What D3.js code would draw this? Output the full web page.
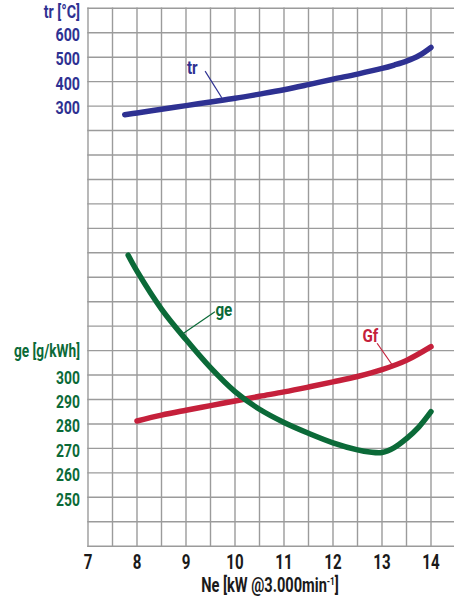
<!DOCTYPE html>
<html>
<head>
<meta charset="utf-8">
<script src="https://cdn.jsdelivr.net/npm/d3@7/dist/d3.min.js"></script>
<style>
  body { margin: 0; background: #fff; }
  svg text { font-family: Roboto, 'DejaVu Sans Condensed', sans-serif; font-weight: bold; }
</style>
</head>
<body>
<div id="chart"></div>
<script>
// ===== data =====
// exhaust temperature tr [°C] vs. Ne [kW]
var trNe   = [7.75, 8, 8.5, 9, 9.5, 10, 10.5, 11, 11.5, 12, 12.5, 13, 13.25, 13.5, 13.75, 14];
var trVals = [265, 272, 287, 302, 317, 332, 349, 367, 388, 410, 431, 454, 468, 484, 506, 540];

// specific consumption ge [g/kWh]
var geNe   = [7.82, 8, 8.5, 9, 9.5, 10, 10.5, 11, 11.5, 12, 12.5, 12.75, 13, 13.25, 13.5, 13.75, 14];
var geVals = [349, 342.5, 327, 314.5, 303, 293.2, 286, 280.6, 276.2, 272.3, 269.4, 268.5, 268.3, 270.3, 274, 278.7, 285];

// fuel flow Gf (no own axis, drawn in ge axis units)
var gfNe   = [8, 8.5, 9, 9.5, 10, 10.5, 11, 11.5, 12, 12.5, 13, 13.5, 14];
var gfVals = [281.2, 283.6, 285.6, 287.5, 289.4, 291.3, 293.1, 295.1, 297.2, 299.4, 302.2, 306, 311.6];

// tick labels
var xTicks  = [7, 8, 9, 10, 11, 12, 13, 14];
var trTicks = [300, 400, 500, 600];
var geTicks = [250, 260, 270, 280, 290, 300];

var colTr = "#2e3192", colGe = "#0b6a38", colGf = "#c5203b";

var W = 454, H = 601;
var margin = {top: 8.3, left: 88, bottom: 546.2};

var svg = d3.select("#chart").append("svg")
    .attr("width", W)
    .attr("height", H);

// Scales - one x, two y (tr and ge share the same grid rows)
var x = d3.scaleLinear().domain([7, 14.5]).range([margin.left, 455.5]);
var yTr = d3.scaleLinear().domain([700, -1500]).range([margin.top, margin.bottom]);
var yGe = d3.scaleLinear().domain([450, 230]).range([margin.top, margin.bottom]);

// Condensed text: there is no narrow font installed, so squeeze it horizontally
function ntext(g, tx, ty, txt, size, color, anchor, sx) {
    return g.append("text")
        .attr("transform", "translate(" + tx + "," + ty + ") scale(" + sx + ",1)")
        .attr("text-anchor", anchor)
        .attr("font-size", size)
        .attr("fill", color)
        .text(txt);
}

// Grid
var gGrid = svg.append("g").attr("stroke", "#9b9b9b").attr("stroke-width", 1.4);
gGrid.selectAll(".v")
    .data(d3.range(7, 14.51, 0.5))
    .enter().append("line")
    .attr("x1", function(d) { return x(d); }).attr("x2", function(d) { return x(d); })
    .attr("y1", yGe(450) - 0.7).attr("y2", yGe(230) + 0.7);
gGrid.selectAll(".h")
    .data(d3.range(230, 450.1, 10))
    .enter().append("line")
    .attr("x1", x(7) - 0.7).attr("x2", W)
    .attr("y1", function(d) { return yGe(d); }).attr("y2", function(d) { return yGe(d); });

// Left labels - tr
var gLeft = svg.append("g");
trTicks.forEach(function(d) {
    ntext(gLeft, 80, yTr(d) + 8, d, 19, colTr, "end", 0.75);
});
ntext(gLeft, 80, yTr(700) + 9.5, "tr [°C]", 19, colTr, "end", 0.75);

// Left labels - ge
geTicks.forEach(function(d) {
    ntext(gLeft, 80, yGe(d) + 8.5, d, 18.5, colGe, "end", 0.75);
});
ntext(gLeft, 80, yGe(310) + 6.5, "ge [g/kWh]", 18.5, colGe, "end", 0.74);

// X axis labels
var gX = svg.append("g");
xTicks.forEach(function(d) {
    ntext(gX, x(d), 569, d, 21, "#1a1a1a", "middle", 0.72);
});

var xt = ntext(svg, 270, 592, "", 19.5, "#1a1a1a", "middle", 0.75);
xt.append("tspan").text("Ne [kW @3.000min");
xt.append("tspan").attr("font-size", 11).attr("dy", -7).text("-1");
xt.append("tspan").attr("dy", 7).text("]");

// Curves
function drawCurve(xs, vs, yScale, color) {
    var pts = xs.map(function(d, i) { return [d, vs[i]]; });
    var line = d3.line()
        .x(function(d) { return x(d[0]); })
        .y(function(d) { return yScale(d[1]); })
        .curve(d3.curveCatmullRom.alpha(0.5));
    svg.append("path")
        .datum(pts)
        .attr("d", line)
        .attr("fill", "none")
        .attr("stroke", color)
        .attr("stroke-width", 5.5)
        .attr("stroke-linecap", "round")
        .attr("stroke-linejoin", "round");
}
drawCurve(trNe, trVals, yTr, colTr);
drawCurve(gfNe, gfVals, yGe, colGf);
drawCurve(geNe, geVals, yGe, colGe);

// Curve labels with leader lines
function curveLabel(txt, tx, ty, lx1, ly1, lx2, ly2, color) {
    svg.append("line")
        .attr("x1", lx1).attr("y1", ly1).attr("x2", lx2).attr("y2", ly2)
        .attr("stroke", color).attr("stroke-width", 1.2);
    ntext(svg, tx, ty, txt, 19, color, "start", 0.8);
}
curveLabel("tr", x(9.02), yTr(430), x(9.39), yTr(443), x(9.73), yTr(334), colTr);
curveLabel("ge", x(9.6), yGe(324), x(9.59), yGe(325.9), x(8.95), yGe(317.1), colGe);
curveLabel("Gf", x(12.6), yGe(313.6), x(12.9), yGe(313), x(13.21), yGe(304.1), colGf);
</script>
</body>
</html>
